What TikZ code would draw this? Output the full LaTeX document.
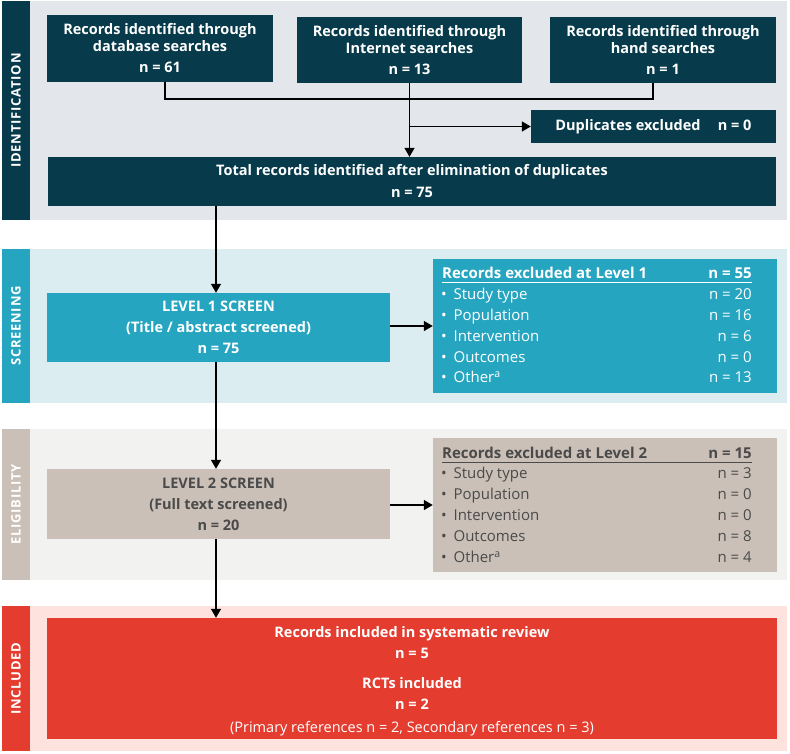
\documentclass[tikz,border=0pt]{standalone}
\usepackage{fontspec}
\setmainfont{Open Sans}
\usetikzlibrary{arrows.meta,calc}
\definecolor{dteal}{HTML}{073A4A}
\definecolor{identbg}{HTML}{E3E7EB}
\definecolor{mteal}{HTML}{26A5C1}
\definecolor{screenbg}{HTML}{DCEDF2}
\definecolor{taupe}{HTML}{CAC0B7}
\definecolor{eligbg}{HTML}{F2F2F0}
\definecolor{ltext}{HTML}{4A4A4A}
\definecolor{redbox}{HTML}{E43C2F}
\definecolor{inclbg}{HTML}{FDE2DD}
\tikzset{
  box/.style={inner sep=0pt, align=center, text=white, font=\bfseries\fontsize{14.5}{17}\selectfont},
  idbox/.style={box, fill=dteal},
  strip/.style={inner sep=0pt, minimum height=28pt, text=white, font=\bfseries\fontsize{13}{15}\selectfont\addfontfeature{LetterSpace=6}},
  conn/.style={line width=1.4pt, black},
  arr/.style={conn, -{Triangle[width=10pt,length=9pt]}},
  item/.style={inner sep=0pt, anchor=base west, font=\fontsize{15}{17}\selectfont},
  val/.style={inner sep=0pt, anchor=base east, font=\fontsize{15}{17}\selectfont},
  head/.style={font=\bfseries\fontsize{15}{17}\selectfont},
}
\begin{document}
\begin{tikzpicture}[x=1pt,y=-1pt]
\useasboundingbox (0,0) rectangle (790,753);
% bands
\fill[identbg] (2,1) rectangle (787,220);
\fill[screenbg] (2,249) rectangle (787,403);
\fill[eligbg] (2,429) rectangle (787,580);
\fill[inclbg] (2,606) rectangle (787,751);
% strips
\node[strip, fill=dteal, minimum width=219pt, rotate=90] (sid) at (16,110.5) {IDENTIFICATION};
\node[strip, fill=mteal, minimum width=154pt, rotate=90] (ssc) at (16,326) {SCREENING};
\node[strip, fill=taupe, minimum width=151pt, rotate=90] (sel) at (16,504.5) {ELIGIBILITY};
\node[strip, fill=redbox, minimum width=145pt, rotate=90] (sin) at (16,678.5) {INCLUDED};
% identification boxes
\node[idbox, minimum width=226pt, minimum height=67pt] (b1) at (160,48.5) {Records identified through\\database searches\\[4pt]n = 61};
\node[idbox, minimum width=225pt, minimum height=66pt] (b2) at (409.5,50) {Records identified through\\Internet searches\\[4pt]n = 13};
\node[idbox, minimum width=226pt, minimum height=66pt] (b3) at (663,50) {Records identified through\\hand searches\\[4pt]n = 1};
\node[idbox, minimum width=245pt, minimum height=33pt] (dup) at (653.5,126.5) {Duplicates excluded\hspace{1.2em}n = 0};
\node[idbox, minimum width=728pt, minimum height=49pt] (tot) at (412,181.5) {Total records identified after elimination of duplicates\\[5pt]n = 75};
% screening
\node[box, fill=mteal, minimum width=343pt, minimum height=69pt, font=\bfseries\fontsize{14.5}{21}\selectfont] (l1) at (218.5,327.5) {LEVEL 1 SCREEN\\(Title / abstract screened)\\n = 75};
\node[inner sep=0pt, fill=mteal, minimum width=344pt, minimum height=134pt] (ex1) at (605,326) {};
% eligibility
\node[box, fill=taupe, text=ltext, minimum width=343pt, minimum height=70pt, font=\bfseries\fontsize{14.5}{21}\selectfont] (l2) at (218.5,504) {LEVEL 2 SCREEN\\(Full text screened)\\n = 20};
\node[inner sep=0pt, fill=taupe, minimum width=344pt, minimum height=134pt] (ex2) at (605,505) {};
% included
\node[inner sep=0pt, fill=redbox, minimum width=730pt, minimum height=121pt] (inc) at (412,678.5) {};
\node[box, font=\bfseries\fontsize{14.5}{21}\selectfont] (inct) at (412,681.5) {Records included in systematic review\\n = 5\\[9pt]RCTs included\\n = 2\\[2pt]{\mdseries (Primary references n = 2, Secondary references n = 3)}};
% excluded list 1
\begin{scope}[text=white]
\node[item, head] (h1) at (442,278.5) {Records excluded at Level 1};
\node[val, head] (h1v) at (752,278.5) {n = 55};
\draw[white, line width=0.9pt] (442,282.5) -- (752,282.5);
\node[item] (a1) at (441,299.5) {•\hspace{0.45em}Study type};
\node[val] (a1v) at (752,299.5) {n = 20};
\node[item] (a2) at (441,320.5) {•\hspace{0.45em}Population};
\node[val] (a2v) at (752,320.5) {n = 16};
\node[item] (a3) at (441,341.5) {•\hspace{0.45em}Intervention};
\node[val] (a3v) at (752,341.5) {n = 6};
\node[item] (a4) at (441,362.5) {•\hspace{0.45em}Outcomes};
\node[val] (a4v) at (752,362.5) {n = 0};
\node[item] (a5) at (441,382.5) {•\hspace{0.45em}Other\textsuperscript{a}};
\node[val] (a5v) at (752,382.5) {n = 13};
\end{scope}
% excluded list 2
\begin{scope}[text=ltext]
\node[item, head] (h2) at (442,458.5) {Records excluded at Level 2};
\node[val, head] (h2v) at (752,458.5) {n = 15};
\draw[ltext, line width=0.9pt] (442,462.5) -- (752,462.5);
\node[item] (c1) at (441,478.5) {•\hspace{0.45em}Study type};
\node[val] (c1v) at (752,478.5) {n = 3};
\node[item] (c2) at (441,499.5) {•\hspace{0.45em}Population};
\node[val] (c2v) at (752,499.5) {n = 0};
\node[item] (c3) at (441,520.5) {•\hspace{0.45em}Intervention};
\node[val] (c3v) at (752,520.5) {n = 0};
\node[item] (c4) at (441,541.5) {•\hspace{0.45em}Outcomes};
\node[val] (c4v) at (752,541.5) {n = 8};
\node[item] (c5) at (441,562.5) {•\hspace{0.45em}Other\textsuperscript{a}};
\node[val] (c5v) at (752,562.5) {n = 4};
\end{scope}
% connectors
\coordinate (j1) at (165,99);
\coordinate (j3) at (653,99);
\draw[conn] (b1.south -| j1) -- (j1) -- (j3) -- (b3.south -| j3);
\draw[arr] (b2.south) -- (tot.north -| b2.south);
\draw[arr] (b2.south |- dup.west) -- (dup.west);
\coordinate (m) at (216,0);
\draw[arr] (tot.south -| m) -- (l1.north -| m);
\draw[arr] (l1.south -| m) -- (l2.north -| m);
\draw[arr] (l2.south -| m) -- (inc.north -| m);
\draw[arr] (l1.east |- ex1.west) -- (ex1.west);
\draw[arr] (l2.east |- ex2.west) -- (ex2.west);
\end{tikzpicture}
\end{document}
